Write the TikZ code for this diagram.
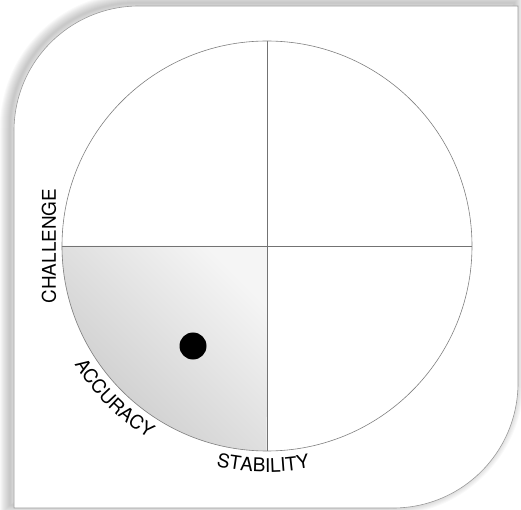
\documentclass[tikz,border=0pt]{standalone}
\usepackage{fontspec}
\setmainfont{TeX Gyre Heros}
\usetikzlibrary{decorations.text}

\newcommand{\cardpath}{(-253,-262) -- (-253,115) arc[start angle=180, end angle=90, radius=125] -- (251,240) -- (251,-137) arc[start angle=0, end angle=-90, radius=125] -- cycle}
\newcommand{\labelsize}{\fontsize{19}{19}\selectfont}

\begin{document}
\begin{tikzpicture}[x=1bp, y=1bp, line width=0.6bp, font=\labelsize]
  \useasboundingbox (-267,-264) rectangle (254,246);
  \foreach \w in {1,...,10}
    \draw[black, opacity=0.025, line width=\w*2bp, shift={(-4,3)}] \cardpath;
  \filldraw[fill=white, draw=black!40] \cardpath;
  \path node[circle, minimum size=410bp, inner sep=0pt] (dial) at (0,0) {};
  \shade[top color=black!4, bottom color=black!21, shading angle=-45] (dial.center) -- (dial.west) arc[start angle=180, end angle=270, radius=205] -- cycle;
  \draw[black!55] (dial.west) -- (dial.east);
  \draw[black!55] (dial.north) -- (dial.south);
  \draw[black!50] (dial.center) circle[radius=205];
  \node[circle, fill=black, minimum size=27bp, inner sep=0pt] (dot) at (-74,-100) {};
  \node[rotate=90] (challenge) at (-218,0) {CHALLENGE};
  \path[decorate, decoration={text along path, text align=center, text={|\labelsize|ACCURACY}}] (198:226) arc[start angle=198, end angle=252, radius=226];
  \path[decorate, decoration={text along path, text align=center, text={|\labelsize|STABILITY}}] (243:226) arc[start angle=243, end angle=295, radius=226];
\end{tikzpicture}
\end{document}
